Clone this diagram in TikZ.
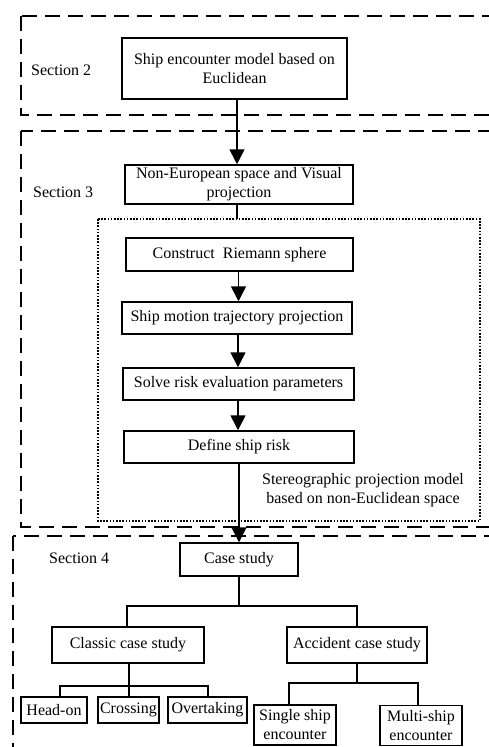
\documentclass[tikz,border=0pt]{standalone}
\usepackage{fontspec}
\setmainfont{Liberation Serif}
\usetikzlibrary{arrows.meta}
\begin{document}
\begin{tikzpicture}[x=1pt,y=-1pt,
  box/.style={draw,line width=1.5pt,inner sep=0pt,align=center,font=\fontsize{16}{19}\selectfont},
  lbl/.style={inner sep=0pt,align=center,font=\fontsize{16}{19}\selectfont},
  arr/.style={line width=1.6pt,-{Triangle[width=15pt,length=15pt]}},
  ln/.style={line width=1.6pt},
  sect/.style={line width=1.4pt,dash pattern=on 15pt off 8pt},
  dotbox/.style={line width=1.4pt,dash pattern=on 1.6pt off 1.6pt}]
\useasboundingbox (0,0) rectangle (489,747);
\clip (0,0) rectangle (489,747);
% section frames
\draw[sect] (21,16) rectangle (505,115);
\draw[sect] (21,131) rectangle (505,527);
\draw[sect] (13,536) rectangle (505,770);
\draw[dotbox] (98,219) rectangle (480,521);
% labels
\node[lbl,anchor=west] (s2) at (31,70) {Section 2};
\node[lbl,anchor=west] (s3) at (33,192) {Section 3};
\node[lbl,anchor=west] (s4) at (49,558) {Section 4};
\node[lbl] (stereo) at (363,490) {Stereographic projection model\\based on non-Euclidean space};
% main chain
\node[box,minimum width=225pt,minimum height=61pt] (enc) at (234.5,68.5) {Ship encounter model based on\\Euclidean};
\node[box,minimum width=228pt,minimum height=39pt] (noneu) at (239,184.5) {Non-European space and Visual\\projection};
\node[box,minimum width=227pt,minimum height=33pt] (riem) at (239.5,254.5) {Construct~ Riemann sphere};
\node[box,minimum width=230pt,minimum height=32pt] (traj) at (237,318) {Ship motion trajectory projection};
\node[box,minimum width=231pt,minimum height=32pt] (solve) at (238.5,384) {Solve risk evaluation parameters};
\node[box,minimum width=230pt,minimum height=32pt] (risk) at (239,447) {Define ship risk};
\node[box,minimum width=118pt,minimum height=33pt] (case) at (239,559.5) {Case study};
\node[box,minimum width=152pt,minimum height=36pt] (classic) at (128,645) {Classic case study};
\node[box,minimum width=140pt,minimum height=36pt] (accid) at (357,645) {Accident case study};
\node[box,minimum width=66pt,minimum height=26pt] (head) at (54,710) {Head-on};
\node[box,minimum width=61pt,minimum height=26pt] (cross) at (128.5,710) {Crossing};
\node[box,minimum width=79pt,minimum height=26pt] (over) at (207.5,710) {Overtaking};
\node[box,minimum width=82pt,minimum height=40pt] (single) at (295,725) {Single ship\\encounter};
\node[box,minimum width=82pt,minimum height=40pt] (multi) at (421,725.5) {Multi-ship\\encounter};
\coordinate (dottop) at (237,219);
% connectors
\draw[arr] ([xshift=2.5pt]enc.south) -- ([xshift=2.5pt]enc.south |- noneu.north);
\draw[ln] ([xshift=-2pt]noneu.south) -- ([xshift=-2pt]noneu.south |- dottop);
\draw[arr] ([xshift=-1pt]riem.south) -- ([xshift=-1pt]riem.south |- traj.north);
\draw[arr] ([xshift=1pt]traj.south) -- ([xshift=1pt]traj.south |- solve.north);
\draw[arr] ([xshift=-0.5pt]solve.south) -- ([xshift=-0.5pt]solve.south |- risk.north);
\draw[arr] (risk.south) -- (risk.south |- case.north);
\draw[ln] (case.south) -- ++(0,29) -| ([xshift=-1pt]classic.north);
\draw[ln] (case.south) -- ++(0,29) -| (accid.north);
\draw[ln] ([xshift=1pt]classic.south) -- ++(0,22) -| ([xshift=6pt]head.north);
\draw[ln] ([xshift=1pt]classic.south) -- ++(0,22) -| ([xshift=0.5pt]cross.north);
\draw[ln] ([xshift=1pt]classic.south) -- ++(0,22) -| ([xshift=0.5pt]over.north);
\draw[ln] (accid.south) -- ++(0,19) -| ([xshift=-6pt]single.north);
\draw[ln] (accid.south) -- ++(0,19) -| ([xshift=-3pt]multi.north);
\end{tikzpicture}
\end{document}
